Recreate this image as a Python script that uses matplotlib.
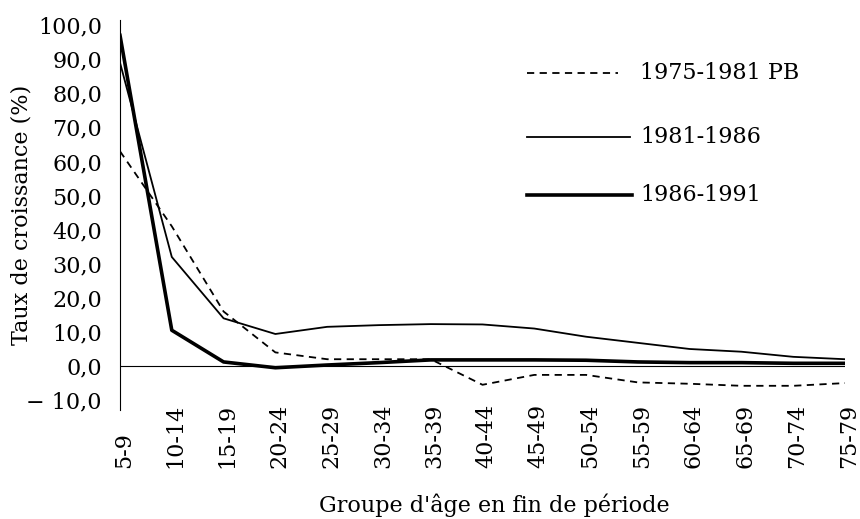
import numpy as np
import matplotlib
matplotlib.use("Agg")
import matplotlib.pyplot as plt
import matplotlib.transforms as mtransforms

groups = ["5-9", "10-14", "15-19", "20-24", "25-29", "30-34", "35-39", "40-44",
          "45-49", "50-54", "55-59", "60-64", "65-69", "70-74", "75-79"]

s_7581 = [63.0, 41.0, 16.0, 4.0, 2.0, 2.0, 2.0, -5.5, -2.6, -2.6, -4.8, -5.2, -5.8, -5.8, -5.0]
s_8186 = [89.0, 32.0, 14.0, 9.4, 11.5, 12.0, 12.3, 12.2, 11.0, 8.6, 6.8, 5.0, 4.2, 2.7, 2.0]
s_8691 = [97.0, 10.5, 1.2, -0.5, 0.3, 1.0, 1.8, 1.8, 1.8, 1.7, 1.2, 1.0, 1.0, 0.8, 0.8]

yticks = [-10, 0, 10, 20, 30, 40, 50, 60, 70, 80, 90, 100]

plt.rcParams["font.family"] = ["DejaVu Serif"]
FS = 16

fig = plt.figure(figsize=(8.6, 5.19), dpi=100)
ax = fig.add_axes([120 / 860, 0.21, 725 / 860, 0.7514])

x = np.arange(len(groups))
ax.plot(x, s_7581, color="black", lw=1.3, ls=(0, (4, 3)))
ax.plot(x, s_8186, color="black", lw=1.3)
ax.plot(x, s_8691, color="black", lw=2.6)
ax.axhline(0, color="black", lw=0.8)

ax.set_xlim(0, len(groups) - 1)
ax.set_ylim(-12.9, 101.5)
for side in ["top", "right", "bottom"]:
    ax.spines[side].set_visible(False)
ax.spines["left"].set_linewidth(0.8)

ax.set_yticks(yticks)
ax.set_yticklabels([("\u2212 " if v < 0 else "") + "{:.1f}".format(abs(v)).replace(".", ",") for v in yticks],
                   fontsize=FS)
ax.tick_params(axis="y", length=0, pad=13)
ax.set_xticks([])

trans = mtransforms.blended_transform_factory(ax.transData, ax.transAxes)
trans = mtransforms.offset_copy(trans, fig=fig, x=4, y=0, units="dots")
for i, g in enumerate(groups):
    ax.text(i, -0.149, g, rotation=90, ha="center", va="bottom", fontsize=FS, transform=trans)

fig.text(22 / 860, 1 - 215 / 519, "Taux de croissance (%)", rotation=90,
         ha="center", va="center", fontsize=FS)
fig.text(494 / 860, 0.027, "Groupe d'âge en fin de période", ha="center", va="center", fontsize=FS)

# legend drawn by hand
leg = [("1975-1981 PB", dict(lw=1.3, ls=(0, (4, 3))), 0.141, 618),
       ("1981-1986", dict(lw=1.3), 0.264, 630),
       ("1986-1991", dict(lw=2.6), 0.376, 632)]
for label, style, yf, x1 in leg:
    yfig = 1 - yf
    fig.add_artist(plt.Line2D([527 / 860, x1 / 860], [yfig, yfig],
                              color="black", transform=fig.transFigure, **style))
    fig.text(640 / 860, yfig, label, ha="left", va="center", fontsize=FS)

fig.savefig("out.png", dpi=100)
